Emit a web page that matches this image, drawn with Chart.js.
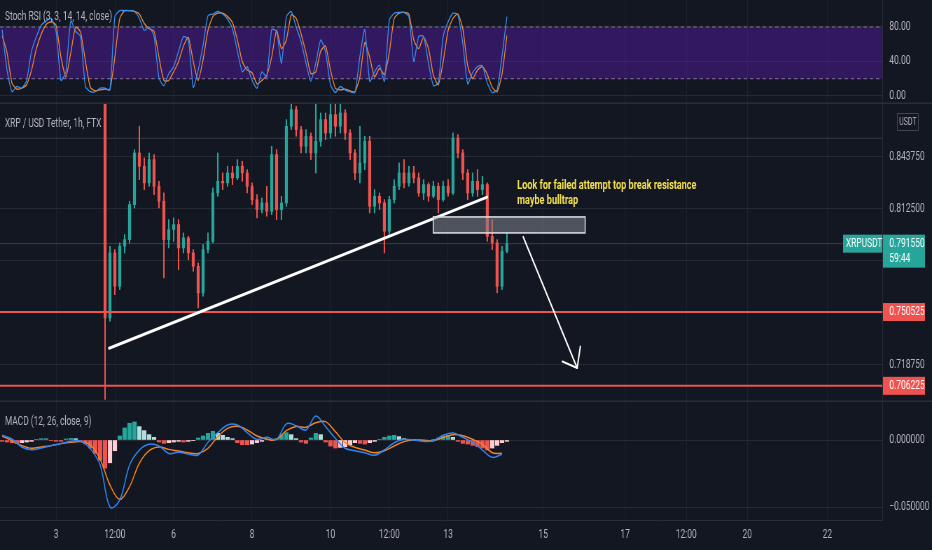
<!DOCTYPE html>
<html>
<head>
<meta charset="utf-8">
<script src="https://cdn.jsdelivr.net/npm/chart.js@4.4.1/dist/chart.umd.min.js"></script>
<style>
html, body { margin: 0; padding: 0; background: #131722; overflow: hidden; }
#wrap { position: relative; width: 932px; height: 550px; background: #131722; }
#wrap canvas { position: absolute; left: 0; width: 932px; }
</style>
</head>
<body>
<div id="wrap">
  <canvas id="stochChart" width="1331" height="104" style="top:0;width:932px;height:104px"></canvas>
  <canvas id="priceChart" width="1331" height="298" style="top:104px;width:932px;height:298px"></canvas>
  <canvas id="macdChart" width="1331" height="148" style="top:402px;width:932px;height:148px"></canvas>
</div>
<script>
// --- time axis (hours since day 1, 00:00) ---
const X_MIN = 13.7, X_MAX = 553.8;
const tickHours = [48, 84, 120, 168, 216, 252, 288, 346.2, 396.4, 433.8, 471.1, 520.1];
const tickLabels = ['3', '12:00', '6', '8', '10', '12:00', '13', '15', '17', '12:00', '20', '22'];

// --- XRP / USDT candles, 3h steps from hour 78 ---
const candleStart = 78, candleStep = 3;
const firstOpen = 0.905;
const candleClose = [
  0.747, 0.786, 0.766, 0.790, 0.794, 0.815, 0.846, 0.838, 0.828, 0.842,
  0.826, 0.817, 0.794, 0.800, 0.803, 0.789, 0.795, 0.786, 0.778, 0.762,
  0.788, 0.793, 0.822, 0.829, 0.828, 0.834, 0.831, 0.838, 0.834, 0.826,
  0.818, 0.812, 0.816, 0.811, 0.845, 0.812, 0.816, 0.862, 0.872, 0.860,
  0.850, 0.856, 0.846, 0.853, 0.866, 0.858, 0.869, 0.862, 0.870, 0.858,
  0.846, 0.834, 0.840, 0.853, 0.814, 0.820, 0.816, 0.799, 0.818, 0.826,
  0.834, 0.828, 0.834, 0.831, 0.822, 0.827, 0.820, 0.826, 0.818, 0.826,
  0.822, 0.855, 0.846, 0.834, 0.822, 0.829, 0.824, 0.827, 0.796, 0.792,
  0.766, 0.787, 0.79155
];
const candleHigh = [
  0.910, 0.790, 0.788, 0.792, 0.797, 0.817, 0.848, 0.862, 0.843, 0.846,
  0.845, 0.829, 0.822, 0.806, 0.807, 0.806, 0.798, 0.796, 0.788, 0.780,
  0.791, 0.798, 0.825, 0.846, 0.834, 0.838, 0.838, 0.842, 0.841, 0.836,
  0.828, 0.821, 0.819, 0.826, 0.850, 0.848, 0.820, 0.866, 0.879, 0.874,
  0.862, 0.860, 0.858, 0.877, 0.870, 0.870, 0.877, 0.878, 0.878, 0.872,
  0.860, 0.848, 0.862, 0.856, 0.856, 0.824, 0.822, 0.818, 0.820, 0.830,
  0.840, 0.842, 0.838, 0.838, 0.834, 0.830, 0.828, 0.829, 0.828, 0.829,
  0.830, 0.858, 0.857, 0.848, 0.836, 0.834, 0.836, 0.832, 0.828, 0.806,
  0.794, 0.790, 0.798
];
const candleLow = [
  0.698, 0.745, 0.761, 0.764, 0.786, 0.792, 0.813, 0.830, 0.824, 0.826,
  0.821, 0.813, 0.771, 0.789, 0.793, 0.776, 0.786, 0.782, 0.775, 0.753,
  0.760, 0.786, 0.792, 0.820, 0.824, 0.826, 0.827, 0.830, 0.829, 0.822,
  0.815, 0.807, 0.810, 0.808, 0.809, 0.806, 0.806, 0.814, 0.860, 0.856,
  0.846, 0.846, 0.842, 0.834, 0.850, 0.854, 0.855, 0.856, 0.858, 0.854,
  0.842, 0.830, 0.828, 0.836, 0.810, 0.810, 0.812, 0.786, 0.797, 0.816,
  0.824, 0.825, 0.826, 0.828, 0.820, 0.818, 0.817, 0.819, 0.810, 0.817,
  0.820, 0.821, 0.843, 0.830, 0.818, 0.820, 0.820, 0.821, 0.793, 0.788,
  0.762, 0.764, 0.786
];
const priceTicks = [0.71875, 0.75, 0.78125, 0.8125, 0.84375];
const priceTicksHidden = [0.75, 0.78125];   // sit under the price tags
const levelPrices = [0.750525, 0.706225];
const lastPrice = 0.79155;
const refLevel = 0.8548;

// --- drawings on the price pane [hour, price] ---
const trendLine = [[80.5, 0.7288], [311.9, 0.8195]];
const zoneBox = [[278.9, 0.8076], [371.9, 0.7980]];
const arrowLine = [[334.0, 0.7956], [367.0, 0.7169]];
const noteLines = ['Look for failed attempt top break resistance', 'maybe bulltrap'];
const notePos = [[330.3, 0.8262], [330.3, 0.8172]];

// --- Stoch RSI, 3h steps from hour 15 ---
const oscStart = 15, oscStep = 3;
const stochK = [
  77, 30, 5, 11, 9, 18, 52, 69, 82, 87,
  90, 75, 18, 28, 87, 75, 69, 11, 5, 5,
  9, 9, 7, 92, 99, 99, 99, 98, 90, 76,
  80, 69, 21, 12, 26, 34, 52, 69, 65, 10,
  30, 59, 93, 95, 98, 95, 89, 78, 52, 28,
  34, 18, 9, 28, 22, 77, 75, 38, 92, 98,
  80, 63, 38, 17, 38, 65, 51, 13, 4, 11,
  7, 5, 4, 46, 77, 17, 28, 36, 17, 88,
  96, 97, 97, 92, 40, 69, 69, 38, 12, 15,
  69, 86, 96, 94, 61, 14, 27, 34, 35, 15,
  4, 7, 46, 92
];
const stochD = [
  70, 50, 15, 8, 9, 13, 30, 55, 72, 83,
  86, 82, 45, 22, 50, 80, 74, 40, 10, 6,
  7, 8, 8, 45, 90, 99, 99, 98, 95, 84,
  78, 75, 45, 18, 18, 28, 40, 58, 68, 40,
  18, 42, 76, 92, 96, 96, 92, 85, 65, 40,
  30, 27, 14, 18, 24, 45, 76, 55, 65, 94,
  90, 72, 50, 26, 28, 52, 58, 30, 9, 7,
  8, 6, 5, 22, 62, 45, 22, 32, 25, 50,
  90, 96, 97, 95, 65, 55, 68, 55, 24, 13,
  40, 76, 90, 95, 78, 35, 20, 30, 34, 25,
  10, 5, 25, 70
];
const stochBands = [80, 20];
const stochTicks = [0, 40, 80];

// --- MACD (values in thousandths); lines every 6h, histogram every 3h ---
const macdLineStep = 6;
const macdLine = [
  3.5, 0.7, -5.2, -7.2, -6, -4.2, -2.7, -1, -0.7, -6.5,
  -18.7, -50, -44.8, -18.7, -7.5, -3.2, -4.5, -10, -9.2, -10.4,
  -11.2, -1.7, 5.5, 11.2, 11.2, 5.5, 0.5, 2, 0.5, 12,
  10.7, 7.5, 17.9, 10, 1.2, -6.2, -8, -9.5, -11.4, -7.5,
  -2, 0.5, 0, -1, -0.5, 3.5, 5.2, 2, -1.7, -7.5,
  -12.9, -10.7
];
const signalLine = [
  3, -0.5, -4.2, -6.2, -5.2, -4.2, -2.7, -1.7, -1.2, -3.7,
  -14.4, -33.6, -44.3, -34.8, -17.4, -8, -5.2, -7, -8.2, -9.5,
  -10, -6.2, 2.5, 8.7, 10.2, 7.5, 3, 0.7, 0.5, 7,
  10, 9.5, 12.9, 13.7, 6.2, -2, -5.5, -7.5, -9.5, -8,
  -4.5, -1.2, 0, -0.2, -0.5, 2, 4, 3.2, 0.5, -3.2,
  -9.5, -10
];
const macdHist = [
  -1, -1.5, -2, -2.5, -2, -1.5, -1, 0.5, 1, 1,
  -0.5, -1, -1, 0.8, 1.2, 1, -0.5, -3, -6, -10,
  -15, -21, -17, -8, 3, 9, 12.5, 13.5, 10, 7,
  4, 2, -1.5, -2.5, -2, -1.5, -1, -1.5, -1, -0.5,
  1.5, 3, 5, 6.5, 5, 3.5, 2, 1, -2, -3.5,
  -3.5, -3, -2, -1, 0.5, -0.5, 1, 4, 5.5, 4,
  1, -1.5, -2.5, 1.5, 5, 4, -1.5, -4.5, -6, -5.5,
  -5, -3.5, -2, -2.5, -3, -2, -1, 0.5, 2, 3,
  3.5, 2.5, 1, 0.5, 0.3, -0.5, -0.8, -0.5, 0.5, 1.5,
  3, 3.5, 2, -1, -2.5, -3, -4, -5, -6, -7.5,
  -6, -4, -2, -1
];
const macdTicks = [0, -0.05];

// --- look ---
const FONT = 'Roboto, "Noto Sans", sans-serif';
const TXT = '#b2b5be';
const SEP = '#2a2e39';
const GRID_H = 'rgba(54, 58, 69, 0.55)';
const GRID_V = 'rgba(54, 58, 69, 0.3)';
const UP = '#26a69a', DOWN = '#ef5350', RED = '#ef5350';
const AXIS_W = 71;

Chart.defaults.font.family = FONT;

function xScale(showLabels) {
    return {
        type: 'linear', min: X_MIN, max: X_MAX, bounds: 'data', offset: false,
        afterBuildTicks: s => { s.ticks = tickHours.map(v => ({ value: v })); },
        afterFit: s => { s.height = showLabels ? 30 : 0; s.paddingLeft = 0; s.paddingRight = 0; },
        grid: { color: GRID_V, drawTicks: false, offset: false },
        border: { display: showLabels, color: SEP },
        ticks: {
            display: showLabels, padding: 8, color: TXT, autoSkip: false, maxRotation: 0,
            font: { size: 12 }, callback: (v, i) => tickLabels[i]
        }
    };
}

function yScale(min, max, ticks, fmt) {
    return {
        type: 'linear', position: 'right', min: min, max: max, bounds: 'data', beginAtZero: false,
        afterBuildTicks: s => { s.ticks = ticks.map(v => ({ value: v })); },
        afterFit: s => { s.width = AXIS_W; s.paddingTop = 0; s.paddingBottom = 0; },
        grid: { color: GRID_H, drawTicks: false },
        border: { color: SEP },
        ticks: { color: TXT, padding: 10, autoSkip: false, font: { size: 12 }, callback: fmt }
    };
}

function baseOptions(scales) {
    return {
        responsive: false, animation: false, events: [],
        layout: { padding: 0 },
        plugins: { legend: { display: false }, tooltip: { enabled: false } },
        scales: scales
    };
}

function paneTitle(text, y, separator) {
    return {
        id: 'paneTitle',
        afterDraw(chart) {
            const ctx = chart.ctx;
            ctx.save();
            ctx.font = '12px ' + FONT;
            ctx.fillStyle = TXT;
            ctx.textBaseline = 'middle';
            ctx.fillText(text, 7, y);
            if (separator) {
                ctx.strokeStyle = SEP;
                ctx.lineWidth = 1.5;
                ctx.beginPath();
                ctx.moveTo(0, chart.height - 0.75);
                ctx.lineTo(chart.width, chart.height - 0.75);
                ctx.stroke();
            }
            ctx.restore();
        }
    };
}

// --- GRAFIK 1: Stoch RSI ---
const oscHours = stochK.map((v, i) => oscStart + oscStep * i);
new Chart(document.getElementById('stochChart'), {
    type: 'line',
    data: {
        datasets: [
            { data: stochK.map((v, i) => ({ x: oscHours[i], y: v })), borderColor: '#3590f3', borderWidth: 1.3,
              pointRadius: 0, tension: 0.2, clip: 0 },
            { data: stochD.map((v, i) => ({ x: oscHours[i], y: v })), borderColor: '#f5882c', borderWidth: 1.3,
              pointRadius: 0, tension: 0.2, clip: 0 },
            { data: [{ x: X_MIN, y: stochBands[0] }, { x: X_MAX, y: stochBands[0] }], borderColor: 'rgba(135,125,160,0.9)',
              borderDash: [5, 4], borderWidth: 1, pointRadius: 0, clip: 0 },
            { data: [{ x: X_MIN, y: stochBands[1] }, { x: X_MAX, y: stochBands[1] }], borderColor: 'rgba(135,125,160,0.9)',
              borderDash: [5, 4], borderWidth: 1, pointRadius: 0, clip: 0,
              fill: '-1', backgroundColor: 'rgba(110, 30, 210, 0.35)' }
        ]
    },
    options: baseOptions({
        x: xScale(false),
        y: yScale(-9.3, 111.3, stochTicks, v => v.toFixed(2))
    }),
    plugins: [paneTitle('Stoch RSI (3, 3, 14, 14, close)', 17, true)]
});

// --- GRAFIK 2: candles + drawings ---
const candleHours = candleClose.map((c, k) => candleStart + candleStep * k);
const candleOpen = candleClose.map((c, k) => k === 0 ? firstOpen : candleClose[k - 1]);
const candleColors = candleClose.map((c, k) => c >= candleOpen[k] ? UP : DOWN);

const priceOverlay = {
    id: 'priceOverlay',
    afterDatasetsDraw(chart) {
        const { ctx, chartArea: a, scales: { x, y } } = chart;
        const px = h => x.getPixelForValue(h), py = v => y.getPixelForValue(v);
        const hline = (v, color, w, dash) => {
            ctx.strokeStyle = color; ctx.lineWidth = w; ctx.setLineDash(dash || []);
            ctx.beginPath(); ctx.moveTo(a.left, py(v)); ctx.lineTo(a.right, py(v)); ctx.stroke();
            ctx.setLineDash([]);
        };
        ctx.save();
        ctx.beginPath(); ctx.rect(a.left, a.top, a.right - a.left, a.bottom - a.top); ctx.clip();

        hline(refLevel, 'rgba(120,123,134,0.35)', 1);
        hline(lastPrice, 'rgba(120,123,134,0.4)', 1);
        levelPrices.forEach(p => hline(p, RED, 2));

        // support trend line
        ctx.strokeStyle = '#ffffff'; ctx.lineWidth = 3; ctx.lineCap = 'round';
        ctx.beginPath();
        ctx.moveTo(px(trendLine[0][0]), py(trendLine[0][1]));
        ctx.lineTo(px(trendLine[1][0]), py(trendLine[1][1]));
        ctx.stroke();

        // resistance zone
        const bx0 = px(zoneBox[0][0]), by0 = py(zoneBox[0][1]);
        const bx1 = px(zoneBox[1][0]), by1 = py(zoneBox[1][1]);
        ctx.fillStyle = 'rgba(130, 133, 144, 0.55)';
        ctx.fillRect(bx0, by0, bx1 - bx0, by1 - by0);
        ctx.strokeStyle = '#e0e3eb'; ctx.lineWidth = 1.5;
        ctx.strokeRect(bx0, by0, bx1 - bx0, by1 - by0);

        // arrow
        const ax0 = px(arrowLine[0][0]), ay0 = py(arrowLine[0][1]);
        const ax1 = px(arrowLine[1][0]), ay1 = py(arrowLine[1][1]);
        ctx.strokeStyle = '#ffffff'; ctx.lineWidth = 2; ctx.lineCap = 'round';
        ctx.beginPath(); ctx.moveTo(ax0, ay0); ctx.lineTo(ax1, ay1); ctx.stroke();
        const back = Math.atan2(ay0 - ay1, ax0 - ax1);
        [-0.74, 0.74].forEach(d => {
            ctx.beginPath();
            ctx.moveTo(ax1, ay1);
            ctx.lineTo(ax1 + 22 * Math.cos(back + d), ay1 + 22 * Math.sin(back + d));
            ctx.stroke();
        });

        // note
        ctx.fillStyle = '#f6e34e';
        ctx.font = 'bold 13px ' + FONT;
        ctx.textBaseline = 'middle';
        noteLines.forEach((t, i) => ctx.fillText(t, px(notePos[i][0]), py(notePos[i][1])));
        ctx.restore();
    },
    afterDraw(chart) {
        const { ctx, chartArea: a, scales: { y } } = chart;
        const py = v => y.getPixelForValue(v);
        ctx.save();
        ctx.font = '12px ' + FONT;
        ctx.textBaseline = 'middle';

        levelPrices.forEach(p => {
            const yc = py(p);
            ctx.fillStyle = RED;
            ctx.fillRect(a.right + 1, yc - 9, 60, 18);
            ctx.fillStyle = '#ffffff';
            ctx.fillText(p.toFixed(6), a.right + 10, yc);
        });

        const yl = py(lastPrice);
        ctx.fillStyle = '#26a69a';
        ctx.fillRect(a.right + 1, yl - 9, 60, 33);
        ctx.fillRect(a.right - 56, yl - 9, 56, 18);
        ctx.fillStyle = '#ffffff';
        ctx.fillText(lastPrice.toFixed(6), a.right + 10, yl);
        ctx.fillText('59:44', a.right + 10, yl + 15);
        ctx.fillText('XRPUSDT', a.right - 52, yl);

        // currency badge
        ctx.strokeStyle = '#434651'; ctx.lineWidth = 1;
        ctx.strokeRect(a.right + 21.5, 9.5, 30, 17);
        ctx.fillStyle = TXT;
        ctx.font = '10px ' + FONT;
        ctx.textAlign = 'center';
        ctx.fillText('USDT', a.right + 36.5, 18);

        ctx.textAlign = 'left';
        ctx.font = '12px ' + FONT;
        ctx.fillText('XRP / USD Tether, 1h, FTX', 7, 20);

        ctx.strokeStyle = SEP; ctx.lineWidth = 1.5;
        ctx.beginPath(); ctx.moveTo(0, chart.height - 0.75); ctx.lineTo(chart.width, chart.height - 0.75); ctx.stroke();
        ctx.restore();
    }
};

new Chart(document.getElementById('priceChart'), {
    type: 'bar',
    data: {
        datasets: [
            { data: candleHours.map((h, k) => ({ x: h, y: [candleOpen[k], candleClose[k]] })),
              backgroundColor: candleColors, barThickness: 3.6, minBarLength: 1, grouped: false, clip: 0 },
            { data: candleHours.map((h, k) => ({ x: h, y: [candleLow[k], candleHigh[k]] })),
              backgroundColor: candleColors, barThickness: 1.4, grouped: false, clip: 0 }
        ]
    },
    options: baseOptions({
        x: xScale(false),
        y: yScale(0.69652, 0.87538, priceTicks, v => priceTicksHidden.includes(v) ? '' : v.toFixed(6))
    }),
    plugins: [priceOverlay]
});

// --- GRAFIK 3: MACD ---
const histHours = macdHist.map((v, i) => oscStart + oscStep * i);
const histColors = macdHist.map((v, i) => {
    const prev = i > 0 ? macdHist[i - 1] : v;
    if (v >= 0) return v >= prev ? '#26a69a' : '#b2dfdb';
    return v <= prev ? '#ef5350' : '#ffcdd2';
});
const lineHours = macdLine.map((v, j) => oscStart + macdLineStep * j);

new Chart(document.getElementById('macdChart'), {
    type: 'bar',
    data: {
        datasets: [
            { type: 'line', data: macdLine.map((v, j) => ({ x: lineHours[j], y: v / 1000 })),
              borderColor: '#2e86f5', borderWidth: 1.5, pointRadius: 0, tension: 0.35, clip: 0 },
            { type: 'line', data: signalLine.map((v, j) => ({ x: lineHours[j], y: v / 1000 })),
              borderColor: '#f7841e', borderWidth: 1.5, pointRadius: 0, tension: 0.35, clip: 0 },
            { data: macdHist.map((v, i) => ({ x: histHours[i], y: v / 1000 })),
              backgroundColor: histColors, barThickness: 5.5, grouped: false, clip: 0 }
        ]
    },
    options: baseOptions({
        x: xScale(true),
        y: yScale(-0.0597, 0.02836, macdTicks, v => (v < 0 ? '\u2212' : '') + Math.abs(v).toFixed(6))
    }),
    plugins: [paneTitle('MACD (12, 26, close, 9)', 20, false)]
});
</script>
</body>
</html>
